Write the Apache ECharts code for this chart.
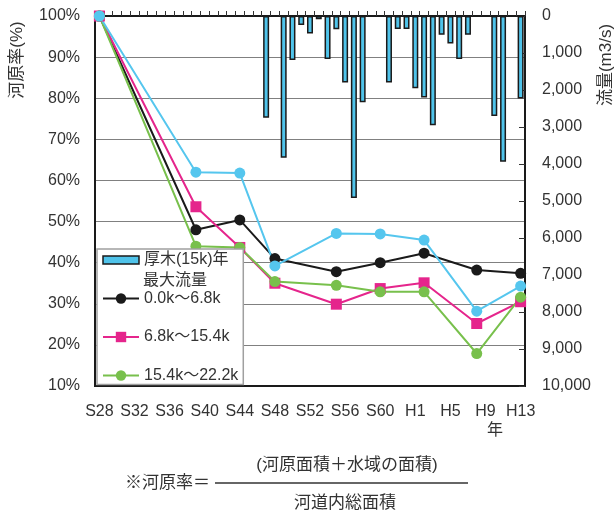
<!DOCTYPE html>
<html>
<head>
<meta charset="utf-8">
<script src="https://cdn.jsdelivr.net/npm/echarts@6/dist/echarts.min.js"></script>
<style>
  html, body { margin: 0; padding: 0; background: #fff; }
  #chart { width: 616px; height: 515px; }
</style>
</head>
<body>
<div id="chart"></div>
<script>
// 年（昭和28年～平成13年）
const years = ['S28', 'S29', 'S30', 'S31', 'S32', 'S33', 'S34', 'S35', 'S36', 'S37', 'S38', 'S39',
  'S40', 'S41', 'S42', 'S43', 'S44', 'S45', 'S46', 'S47', 'S48', 'S49', 'S50', 'S51',
  'S52', 'S53', 'S54', 'S55', 'S56', 'S57', 'S58', 'S59', 'S60', 'S61', 'S62', 'S63',
  'H1', 'H2', 'H3', 'H4', 'H5', 'H6', 'H7', 'H8', 'H9', 'H10', 'H11', 'H12', 'H13'];

// 厚木(15k)の年最大流量 (m3/s)
const floodYears = ['S47', 'S49', 'S50', 'S51', 'S52', 'S53', 'S54', 'S55', 'S56', 'S57', 'S58',
  'S61', 'S62', 'S63', 'H1', 'H2', 'H3', 'H4', 'H5', 'H6', 'H7', 'H10', 'H11', 'H13'];
const floodPeak = [2750, 3830, 1190, 240, 470, 90, 1160, 360, 1800, 4920, 2330,
  1800, 350, 350, 1950, 2200, 2950, 510, 740, 1160, 510, 2700, 3940, 2230];

// 河原率の調査年と値 (%)
const surveyYears = ['S28', 'S39', 'S44', 'S48', 'S55', 'S60', 'H2', 'H8', 'H13'];
const rate0to68 = [100, 48.0, 50.4, 41.0, 37.8, 40.0, 42.3, 38.2, 37.4];
const rate68to154 = [100, 53.6, 43.7, 35.0, 29.9, 33.7, 35.1, 25.2, 30.5];
const rate154to222 = [100, 44.0, 43.7, 35.4, 34.5, 32.9, 32.9, 17.9, 31.6];
const rateUpper = [100, 62.0, 61.8, 39.2, 47.1, 47.0, 45.5, 28.2, 34.3];

const FONT = "'Liberation Sans', 'Noto Sans CJK JP', sans-serif";
const TEXT = '#333';

// 折れ線の共通設定
function rateLine(name, values, color, symbol) {
  return {
    name: name,
    type: 'line',
    yAxisIndex: 0,
    data: surveyYears.map((y, i) => [y, values[i]]),
    symbol: symbol,
    symbolSize: 11,
    showAllSymbol: true,
    connectNulls: true,
    lineStyle: { color: color, width: 2 },
    itemStyle: { color: color },
    z: 3
  };
}

const chart = echarts.init(document.getElementById('chart'));

chart.setOption({
  animation: false,
  textStyle: { fontFamily: FONT },
  grid: {
    left: 95, top: 16, width: 430, height: 370,
    show: true, borderColor: '#1a1a1a', borderWidth: 2,
    outerBoundsMode: 'none'
  },
  legend: {
    orient: 'vertical',
    left: 97, top: 249,
    padding: [3, 5, 1, 5],
    itemGap: 22.5,
    itemWidth: 36,
    itemHeight: 13,
    selectedMode: false,
    backgroundColor: '#fff',
    borderColor: '#a0a0a0',
    borderWidth: 1.5,
    textStyle: { fontSize: 16, color: TEXT, fontFamily: FONT },
    data: [
      {
        name: '厚木(15k)年',
        icon: 'path://M0,0M0,13M0,2.5L36,2.5L36,10.5L0,10.5Z',
        itemStyle: { color: '#4fc3ea', borderColor: '#1a1a1a', borderWidth: 1.5 }
      },
      '0.0k～6.8k',
      '6.8k～15.4k',
      '15.4k～22.2k'
    ]
  },
  xAxis: {
    type: 'category',
    data: years,
    boundaryGap: true,
    axisLine: { lineStyle: { color: '#1a1a1a', width: 2 } },
    axisTick: { show: true, inside: true, length: 5, interval: 0, lineStyle: { color: '#333' } },
    axisLabel: { interval: 3, margin: 18, fontSize: 16, color: TEXT, fontFamily: FONT },
    splitLine: { show: false }
  },
  yAxis: [
    {
      type: 'value',
      min: 10, max: 100, interval: 10,
      axisLine: { show: true, lineStyle: { color: '#1a1a1a', width: 2 } },
      axisTick: { show: false },
      axisLabel: { formatter: '{value}%', fontSize: 16, margin: 15, color: TEXT, fontFamily: FONT },
      splitLine: { show: true, showMinLine: false, showMaxLine: false, lineStyle: { color: '#808080', width: 1.2 } }
    },
    {
      type: 'value',
      position: 'right',
      inverse: true,
      min: 0, max: 10000, interval: 1000,
      axisLine: { show: true, lineStyle: { color: '#1a1a1a', width: 2 } },
      axisTick: { show: true, inside: true, length: 6, lineStyle: { color: '#333' } },
      axisLabel: {
        formatter: v => v.toLocaleString('en-US'),
        fontSize: 16, margin: 17, color: TEXT, fontFamily: FONT
      },
      splitLine: { show: false }
    }
  ],
  series: [
    {
      name: '厚木(15k)年',
      type: 'bar',
      yAxisIndex: 1,
      barWidth: 6,
      data: floodYears.map((y, i) => [y, floodPeak[i]]),
      itemStyle: { color: '#4fc3ea', borderColor: '#1a1a1a', borderWidth: 1.5 },
      z: 1
    },
    rateLine('0.0k～6.8k', rate0to68, '#1a1a1a', 'circle'),
    rateLine('6.8k～15.4k', rate68to154, '#e5258c', 'rect'),
    rateLine('15.4k～22.2k', rate154to222, '#78c04c', 'circle'),
    rateLine('上流区間', rateUpper, '#55c6ee', 'circle')
  ],
  graphic: [
    // 凡例の2行目
    { type: 'text', left: 143, top: 273, z: 10,
      style: { text: '最大流量', fontSize: 16, fontFamily: FONT, fill: TEXT } },
    // 軸タイトル
    { type: 'text', x: 17, y: 60, rotation: Math.PI / 2,
      style: { text: '河原率(%)', fontSize: 17, fontFamily: FONT, fill: TEXT, align: 'center', verticalAlign: 'middle' } },
    { type: 'text', x: 606, y: 65, rotation: Math.PI / 2,
      style: { text: '流量(m3/s)', fontSize: 17, fontFamily: FONT, fill: TEXT, align: 'center', verticalAlign: 'middle' } },
    { type: 'text', x: 495, y: 431,
      style: { text: '年', fontSize: 16, fontFamily: FONT, fill: TEXT, align: 'center', verticalAlign: 'middle' } },
    // 河原率の定義式
    { type: 'text', x: 125, y: 483,
      style: { text: '※河原率＝', fontSize: 17, fontFamily: FONT, fill: TEXT, align: 'left', verticalAlign: 'middle' } },
    { type: 'line', shape: { x1: 215, y1: 483, x2: 468, y2: 483 },
      style: { stroke: '#333', lineWidth: 1.5 } },
    { type: 'text', x: 347, y: 465,
      style: { text: '(河原面積＋水域の面積)', fontSize: 17, fontFamily: FONT, fill: TEXT, align: 'center', verticalAlign: 'middle' } },
    { type: 'text', x: 345, y: 503,
      style: { text: '河道内総面積', fontSize: 17, fontFamily: FONT, fill: TEXT, align: 'center', verticalAlign: 'middle' } }
  ]
});
</script>
</body>
</html>
